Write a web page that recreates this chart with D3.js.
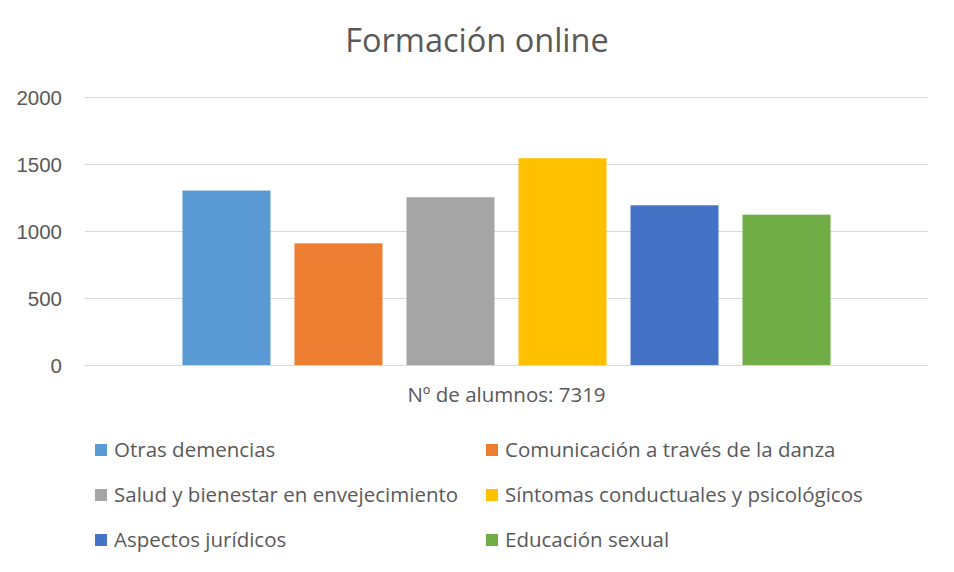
<!DOCTYPE html>
<html lang="es">
<head>
  <meta charset="UTF-8">
  <title>Formación online</title>
  <script src="https://d3js.org/d3.v7.min.js"></script>
  <style>
    body { margin: 0; background: #fff; }
    svg { font-family: "Open Sans", "Noto Sans", sans-serif; }
    .grid line { stroke: #d9d9d9; stroke-width: 1.3px; shape-rendering: crispEdges; }
    .grid .domain { display: none; }
    .y-axis .domain, .y-axis line { display: none; }
    .y-axis text { fill: #595959; font-size: 20.5px; }
  </style>
</head>
<body>
  <div id="chart"></div>
  <script>
    // data
    const category = "Nº de alumnos: 7319";
    const series = [
      "Otras demencias",
      "Comunicación a través de la danza",
      "Salud y bienestar en envejecimiento",
      "Síntomas conductuales y psicológicos",
      "Aspectos jurídicos",
      "Educación sexual"
    ];
    const values = [1302, 908, 1252, 1543, 1192, 1122];
    const colors = ["#5b9bd5", "#ed7d31", "#a5a5a5", "#ffc000", "#4472c4", "#70ad47"];
    const yTicks = [0, 500, 1000, 1500, 2000];

    const width = 954, height = 572;
    const margin = {top: 97, right: 26, bottom: 207, left: 85};
    const innerW = width - margin.left - margin.right;
    const innerH = height - margin.top - margin.bottom;

    const svg = d3.select("#chart").append("svg")
      .attr("width", width)
      .attr("height", height);

    svg.append("text")
      .attr("x", width / 2)
      .attr("y", 52)
      .attr("text-anchor", "middle")
      .attr("fill", "#595959")
      .style("font-size", "32.5px")
      .text("Formación online");

    const g = svg.append("g")
      .attr("transform", `translate(${margin.left},${margin.top})`);

    const y = d3.scaleLinear().domain([0, 2000]).range([innerH, 0]);

    const x0 = d3.scaleBand()
      .domain([category])
      .range([0, innerW])
      .paddingOuter(0.1272);

    const x1 = d3.scaleBand()
      .domain(series)
      .range([0, x0.bandwidth()])
      .paddingInner(0.2143)
      .paddingOuter(0.107);

    // gridlines
    g.append("g")
      .attr("class", "grid")
      .call(d3.axisLeft(y).tickValues(yTicks).tickSize(-innerW).tickFormat(""));

    g.append("g")
      .attr("class", "y-axis")
      .attr("transform", "translate(-23,0)")
      .call(d3.axisLeft(y).tickValues(yTicks).tickSize(0).tickPadding(0).tickFormat(d3.format("d")))
      .selectAll("text").attr("dy", "0.35em");

    const grp = g.append("g")
      .attr("transform", `translate(${x0(category)},0)`);

    grp.selectAll("rect")
      .data(series)
      .join("rect")
        .attr("x", d => x1(d))
        .attr("width", x1.bandwidth())
        .attr("y", (d, i) => y(values[i]))
        .attr("height", (d, i) => innerH - y(values[i]))
        .attr("fill", (d, i) => colors[i]);

    // category label
    g.append("text")
      .attr("x", x0(category) + x0.bandwidth() / 2)
      .attr("y", innerH + 37)
      .attr("text-anchor", "middle")
      .attr("fill", "#595959")
      .style("font-size", "20.5px")
      .text(category);

    // legend, two columns
    const legend = svg.append("g").attr("transform", "translate(95,444)");
    const item = legend.selectAll("g")
      .data(series)
      .join("g")
        .attr("transform", (d, i) => `translate(${(i % 2) * 391},${Math.floor(i / 2) * 45})`);

    item.append("rect")
      .attr("width", 12)
      .attr("height", 12)
      .attr("fill", (d, i) => colors[i]);

    item.append("text")
      .attr("x", 19)
      .attr("y", 13)
      .attr("fill", "#595959")
      .style("font-size", "20.5px")
      .text(d => d);
  </script>
</body>
</html>
